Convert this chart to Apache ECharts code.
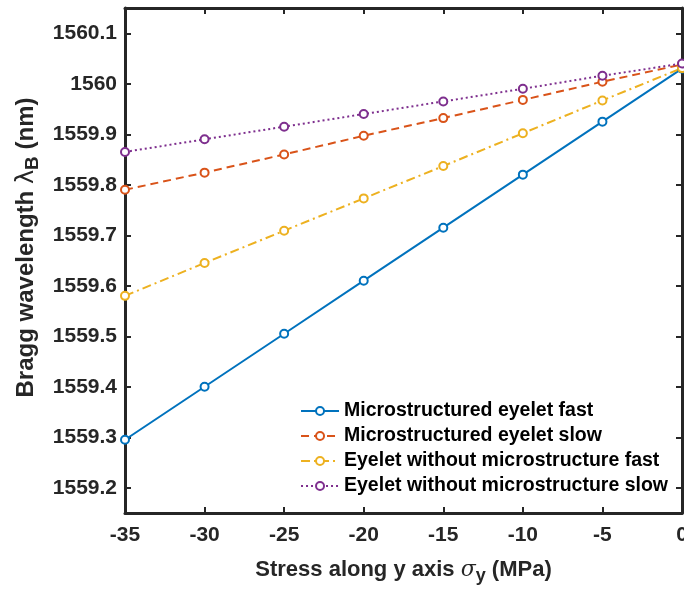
<!DOCTYPE html>
<html>
<head>
<meta charset="utf-8">
<script src="https://cdn.jsdelivr.net/npm/echarts@6/dist/echarts.min.js"></script>
<style>
  html, body { margin: 0; padding: 0; background: #fff; }
  #chart { width: 684px; height: 590px; }
</style>
</head>
<body>
<div id="chart"></div>
<script>
// stress values (MPa)
var stress = [-35, -30, -25, -20, -15, -10, -5, 0];

// Bragg wavelength (nm)
var microFast = [1559.295, 1559.400, 1559.505, 1559.610, 1559.715, 1559.820, 1559.925, 1560.030];
var microSlow = [1559.790, 1559.824, 1559.860, 1559.897, 1559.932, 1559.968, 1560.004, 1560.038];
var plainFast = [1559.580, 1559.645, 1559.709, 1559.773, 1559.837, 1559.902, 1559.967, 1560.031];
var plainSlow = [1559.865, 1559.890, 1559.915, 1559.940, 1559.965, 1559.990, 1560.016, 1560.040];

var yTicks = [1559.2, 1559.3, 1559.4, 1559.5, 1559.6, 1559.7, 1559.8, 1559.9, 1560.0, 1560.1];

var names = [
    'Microstructured eyelet fast',
    'Microstructured eyelet slow',
    'Eyelet without microstructure fast',
    'Eyelet without microstructure slow'
];
var colors = ['#0072BD', '#D95319', '#EDB120', '#7E2F8E'];
var dashes = ['solid', [8, 5], [9, 4, 2, 4], [2, 3]];

function pairs(ys) {
    return stress.map(function (x, i) { return [x, ys[i]]; });
}

var axisColor = '#262626';
var font = 'Liberation Sans, Arial, sans-serif';

var chart = echarts.init(document.getElementById('chart'), null, {renderer: 'canvas'});

var option = {
    animation: false,
    backgroundColor: '#fff',
    grid: {left: 125, right: 2, top: 8, bottom: 77, outerBoundsMode: 'none', containLabel: false},
    legend: {
        orient: 'vertical',
        right: 12,
        top: 399,
        itemWidth: 38,
        itemHeight: 10,
        itemGap: 5,
        backgroundColor: '#fff',
        padding: [2, 4, 2, 4],
        textStyle: {fontFamily: font, fontWeight: 'bold', fontSize: 19.5, color: '#000'},
        data: names
    },
    xAxis: [{
        type: 'value',
        min: -35, max: 0, interval: 5,
        position: 'bottom',
        name: 'Stress along y axis {s|σ}{sub|y} (MPa)',
        nameLocation: 'middle',
        nameGap: 42,
        nameTextStyle: {
            fontFamily: font, fontWeight: 'bold', fontSize: 22, color: axisColor,
            rich: {
                s: {fontFamily: 'DejaVu Serif', fontStyle: 'italic', fontWeight: 'normal', fontSize: 22, color: axisColor},
                sub: {fontFamily: font, fontWeight: 'bold', fontSize: 18, color: axisColor, verticalAlign: 'bottom', padding: [12, 0, 0, 0]}
            }
        },
        axisLine: {show: true, onZero: false, lineStyle: {color: axisColor, width: 3}},
        axisTick: {show: true, inside: true, length: 6, lineStyle: {color: axisColor, width: 2}},
        axisLabel: {fontFamily: font, fontWeight: 'bold', fontSize: 21, color: axisColor, margin: 12},
        splitLine: {show: false}
    }, {
        type: 'value',
        min: -35, max: 0, interval: 5,
        position: 'top',
        axisLine: {show: true, onZero: false, lineStyle: {color: axisColor, width: 3}},
        axisTick: {show: true, inside: true, length: 6, lineStyle: {color: axisColor, width: 2}},
        axisLabel: {show: false},
        splitLine: {show: false}
    }],
    yAxis: [{
        type: 'value',
        min: 1559.15, max: 1560.15,
        position: 'left',
        name: 'Bragg wavelength {l|λ}{sub|B} (nm)',
        nameLocation: 'middle',
        nameGap: 80,
        nameTextStyle: {
            fontFamily: font, fontWeight: 'bold', fontSize: 24, color: axisColor,
            padding: [0, 0, 0, 26],
            rich: {
                l: {fontFamily: 'DejaVu Sans', fontWeight: 'normal', fontSize: 24, color: axisColor},
                sub: {fontFamily: font, fontWeight: 'bold', fontSize: 19, color: axisColor, verticalAlign: 'bottom', padding: [12, 0, 0, 0]}
            }
        },
        axisLine: {show: true, onZero: false, lineStyle: {color: axisColor, width: 3}},
        axisTick: {show: true, inside: true, length: 6, customValues: yTicks, lineStyle: {color: axisColor, width: 2}},
        axisLabel: {
            fontFamily: font, fontWeight: 'bold', fontSize: 21, color: axisColor, margin: 8,
            customValues: yTicks,
            formatter: function (v) { return String(+v.toFixed(1)); }
        },
        splitLine: {show: false}
    }, {
        type: 'value',
        min: 1559.15, max: 1560.15,
        position: 'right',
        axisLine: {show: true, onZero: false, lineStyle: {color: axisColor, width: 3}},
        axisTick: {show: true, inside: true, length: 6, customValues: yTicks, lineStyle: {color: axisColor, width: 2}},
        axisLabel: {show: false},
        splitLine: {show: false}
    }],
    series: [microFast, microSlow, plainFast, plainSlow].map(function (ys, i) {
        return {
            name: names[i],
            type: 'line',
            data: pairs(ys),
            symbol: 'emptyCircle',
            symbolSize: 8,
            clip: false,
            color: colors[i],
            itemStyle: {color: colors[i], borderColor: colors[i], borderWidth: 2},
            lineStyle: {color: colors[i], width: 2, type: dashes[i]}
        };
    })
};

chart.setOption(option);
</script>
</body>
</html>
